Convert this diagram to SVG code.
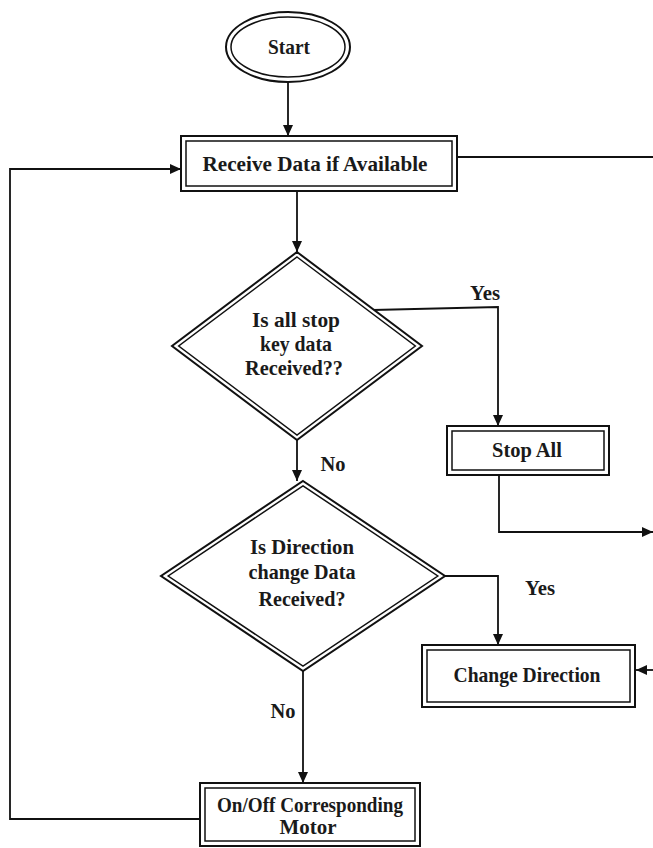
<svg xmlns="http://www.w3.org/2000/svg" width="653" height="848" viewBox="0 0 653 848">
<style>
.o{fill:#fff;stroke:#111;stroke-width:2}
.i{fill:none;stroke:#111;stroke-width:1.5}
.c{fill:none;stroke:#111;stroke-width:1.8}
text{font-family:"Liberation Serif","Times New Roman",serif;font-weight:bold;font-size:21px;fill:#1a1a1a;text-anchor:middle}
</style>
<defs>
<marker id="ah" markerUnits="userSpaceOnUse" markerWidth="11" markerHeight="10" refX="11" refY="5" orient="auto">
<path d="M0,0 L11,5 L0,10 z" fill="#111"/>
</marker>
</defs>
<g id="connectors">
<line class="c" x1="288" y1="82" x2="288" y2="136" marker-end="url(#ah)"/>
<line class="c" x1="297" y1="191" x2="297" y2="252" marker-end="url(#ah)"/>
<polyline class="c" points="373,310 498,307 498,426" marker-end="url(#ah)"/>
<polyline class="c" points="499,475 499,532 653,532" marker-end="url(#ah)"/>
<line class="c" x1="297" y1="440" x2="297" y2="481" marker-end="url(#ah)"/>
<polyline class="c" points="445,576 498,576 498,645" marker-end="url(#ah)"/>
<line class="c" x1="653" y1="670" x2="636" y2="670" marker-end="url(#ah)"/>
<line class="c" x1="303" y1="671" x2="303" y2="783" marker-end="url(#ah)"/>
<polyline class="c" points="200,819 10,819 10,169 181,169" marker-end="url(#ah)"/>
<line class="c" x1="457" y1="157" x2="653" y2="157"/>
<text x="485" y="300" textLength="30" lengthAdjust="spacingAndGlyphs">Yes</text>
<text x="333" y="471" textLength="25" lengthAdjust="spacingAndGlyphs">No</text>
<text x="540" y="595" textLength="30" lengthAdjust="spacingAndGlyphs">Yes</text>
<text x="283" y="718" textLength="25" lengthAdjust="spacingAndGlyphs">No</text>
</g>
<g id="start">
<ellipse class="o" cx="288" cy="47" rx="62" ry="35"/>
<ellipse class="i" cx="288" cy="47" rx="57" ry="30"/>
<text x="289" y="54" textLength="42" lengthAdjust="spacingAndGlyphs">Start</text>
</g>
<g id="receive">
<rect class="o" x="181" y="136" width="276" height="55"/>
<rect class="i" x="186" y="141" width="266" height="45"/>
<text x="315" y="171" textLength="225" lengthAdjust="spacingAndGlyphs">Receive Data if Available</text>
</g>
<g id="decision1">
<polygon class="o" points="297,252 422,346 297,440 172,346"/>
<polygon class="i" points="297,257 415.3,346 297,435 178.7,346"/>
<text x="296" y="327" textLength="88" lengthAdjust="spacingAndGlyphs">Is all stop</text>
<text x="296" y="351" textLength="72" lengthAdjust="spacingAndGlyphs">key data</text>
<text x="294" y="375" textLength="98" lengthAdjust="spacingAndGlyphs">Received??</text>
</g>
<g id="stopall">
<rect class="o" x="447" y="426" width="162" height="49"/>
<rect class="i" x="452" y="431" width="152" height="39"/>
<text x="527" y="457" textLength="70" lengthAdjust="spacingAndGlyphs">Stop All</text>
</g>
<g id="decision2">
<polygon class="o" points="303,481 445,576 303,671 161,576"/>
<polygon class="i" points="303,485.8 437.8,576 303,666.2 168.2,576"/>
<text x="302" y="554" textLength="104" lengthAdjust="spacingAndGlyphs">Is Direction</text>
<text x="302" y="579" textLength="107" lengthAdjust="spacingAndGlyphs">change Data</text>
<text x="302" y="606" textLength="87" lengthAdjust="spacingAndGlyphs">Received?</text>
</g>
<g id="changedir">
<rect class="o" x="422" y="645" width="213" height="62"/>
<rect class="i" x="427" y="650" width="203" height="52"/>
<text x="527" y="682" textLength="147" lengthAdjust="spacingAndGlyphs">Change Direction</text>
</g>
<g id="onoff">
<rect class="o" x="200" y="783" width="220" height="63"/>
<rect class="i" x="205" y="788" width="210" height="53"/>
<text x="310" y="812" textLength="186" lengthAdjust="spacingAndGlyphs">On/Off Corresponding</text>
<text x="308" y="834" textLength="57" lengthAdjust="spacingAndGlyphs">Motor</text>
</g>
</svg>
